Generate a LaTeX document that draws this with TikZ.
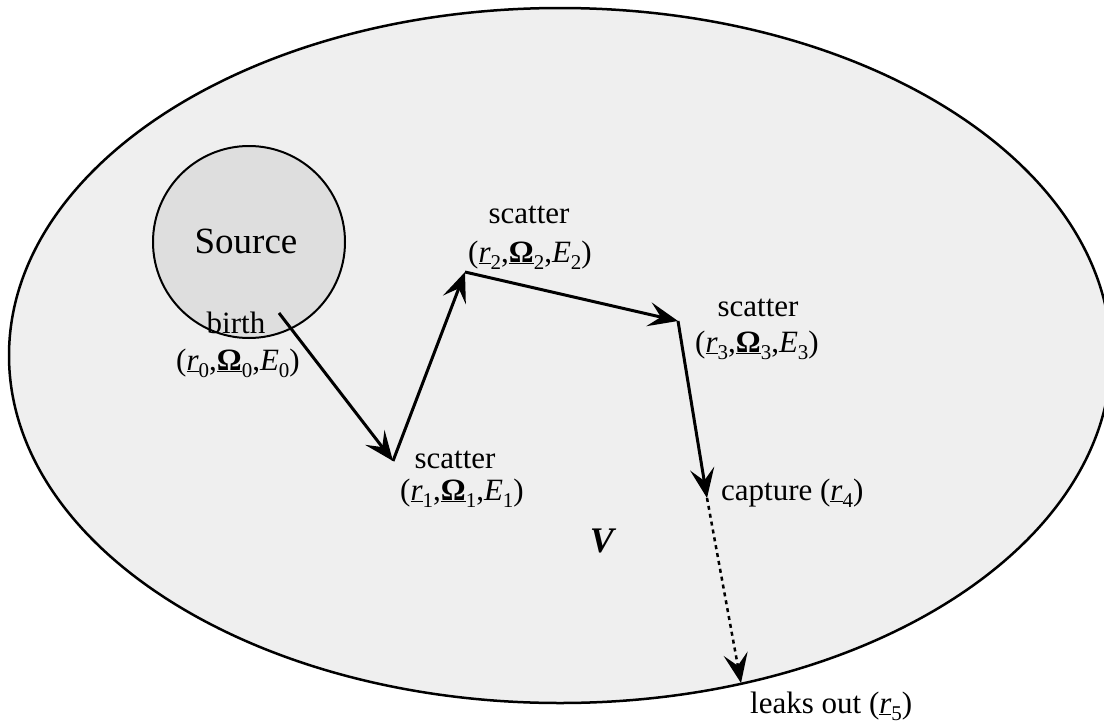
\documentclass[tikz,border=0pt]{standalone}
\usepackage{fontspec}
\setmainfont{Liberation Serif}
\usetikzlibrary{arrows.meta}
\definecolor{vol}{HTML}{EFEFEF}\definecolor{src}{HTML}{DEDEDE}
\newcommand{\ix}[1]{\raisebox{-.25em}{\fontsize{21}{21}\selectfont #1}}
\newcommand{\state}[1]{(\underline{\textit{r}}\ix{#1},\underline{\textbf{Ω}}\ix{#1},\textit{E}\ix{#1})}
\tikzset{every node/.style={font=\fontsize{31}{36}\selectfont,inner sep=0pt,anchor=base},
flow/.style={line width=3pt,-{Stealth[length=11pt,width=9pt,inset=4.5pt,scale=2.7]}},
leak/.style={line width=2.5pt,-{Stealth[length=11pt,width=9pt,inset=4.5pt,scale=2.7]},dash pattern=on 4pt off 4pt}}

\begin{document}
\begin{tikzpicture}[x=1pt,y=-1pt]
\useasboundingbox (0,0) rectangle (1104,726);
\clip (0,0) rectangle (1104,726);
\draw[line width=2.5pt,fill=vol] (560,355.5) ellipse [x radius=551,y radius=347.5];
\draw[line width=2pt,fill=src] (249,242) circle (96);
\node[font=\fontsize{37}{40}\selectfont] (src) at (246,253){Source};
% path points
\coordinate (r0) at (279,313);\coordinate (r1) at (393,461);\coordinate (r2) at (465,272);
\coordinate (r3) at (678,321);\coordinate (r4) at (707,498);\coordinate (r5) at (741,683);
\node (birth) at (236,333){birth};\node (st0) at (238,370){\state{0}};
\foreach \i/\x/\y/\xx/\yy in {1/455/468/462/500,2/529/223/530/262,3/758/316/757/352}{
\node (sc\i) at (\x,\y){scatter};\node (st\i) at (\xx,\yy){\state{\i}};}
\node[anchor=base west] (cap) at (721,500){capture (\underline{\textit{r}}\ix{4})};
\node[anchor=base west] (leak) at (750,713){leaks out (\underline{\textit{r}}\ix{5})};
\node[font=\fontsize{36}{40}\selectfont\bfseries\itshape] (V) at (602,552){V};
\draw[flow] (r0)--(r1);\draw[flow] (r1)--(r2);\draw[flow] (r2)--(r3);\draw[flow] (r3)--(r4);
\draw[leak] (r4)--(r5);
\end{tikzpicture}
\end{document}
